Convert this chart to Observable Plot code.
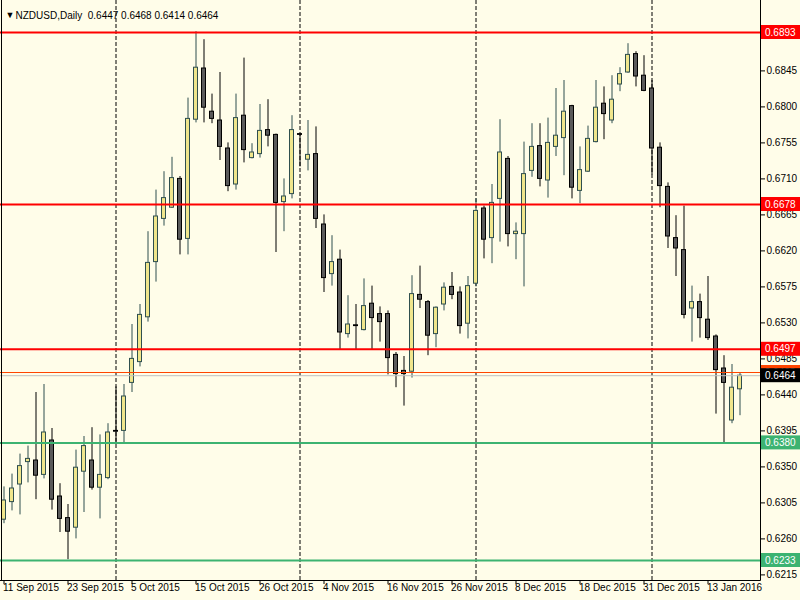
<!DOCTYPE html>
<html><head><meta charset="utf-8">
<script src="https://cdn.jsdelivr.net/npm/d3@7"></script>
<script src="https://cdn.jsdelivr.net/npm/@observablehq/plot@0.6"></script>
<style>
html,body{margin:0;padding:0;background:#FFFDE9;}
</style></head><body><div id="chart"></div>
<script>
const opens = [0.6284,0.6306,0.6328,0.6356,0.6358,0.6340,0.6383,0.6313,0.6286,0.6274,
0.6344,0.6358,0.6324,0.6336,0.6395,0.6395,0.6455,0.6481,0.6537,0.6606,
0.6660,0.6674,0.6710,0.6635,0.6784,0.6848,0.6794,0.6783,0.6748,0.6703,
0.6789,0.6736,0.6741,0.6771,0.6765,0.6681,0.6691,0.6766,0.6734,0.6741,
0.6653,0.6591,0.6609,0.6516,0.6527,0.6521,0.6554,0.6541,0.6541,0.6490,
0.6470,0.6469,0.6565,0.6556,0.6516,0.6553,0.6575,0.6568,0.6529,0.6579,
0.6673,0.6636,0.6685,0.6735,0.6641,0.6641,0.6720,0.6751,0.6708,0.6750,
0.6761,0.6801,0.6695,0.6719,0.6756,0.6804,0.6783,0.6828,0.6843,0.6866,
0.6839,0.6823,0.6749,0.6700,0.6636,0.6621,0.6548,0.6556,0.6534,0.6513,
0.6473,0.6408,0.6447];
const highs = [0.6325,0.6341,0.6366,0.6376,0.6443,0.6453,0.6398,0.6329,0.6303,0.6371,
0.6388,0.6399,0.6390,0.6404,0.6450,0.6453,0.6528,0.6553,0.6644,0.6696,
0.6719,0.6737,0.6713,0.6811,0.6894,0.6884,0.6816,0.6843,0.6755,0.6816,
0.6861,0.6754,0.6803,0.6809,0.6766,0.6710,0.6789,0.6766,0.6783,0.6775,
0.6665,0.6639,0.6621,0.6564,0.6553,0.6585,0.6576,0.6550,0.6545,0.6493,
0.6488,0.6589,0.6601,0.6558,0.6550,0.6580,0.6593,0.6575,0.6588,0.6685,
0.6676,0.6703,0.6784,0.6738,0.6655,0.6756,0.6779,0.6779,0.6786,0.6823,
0.6833,0.6802,0.6750,0.6776,0.6833,0.6825,0.6839,0.6849,0.6879,0.6869,
0.6864,0.6833,0.6755,0.6705,0.6664,0.6676,0.6576,0.6566,0.6588,0.6515,
0.6489,0.6478,0.6468];
const lows = [0.6279,0.6295,0.6290,0.6330,0.6309,0.6335,0.6296,0.6268,0.6234,0.6260,
0.6293,0.6321,0.6285,0.6334,0.6381,0.6380,0.6443,0.6475,0.6531,0.6581,
0.6651,0.6673,0.6615,0.6615,0.6780,0.6780,0.6779,0.6733,0.6694,0.6696,
0.6730,0.6735,0.6736,0.6750,0.6618,0.6644,0.6685,0.6725,0.6720,0.6648,
0.6568,0.6576,0.6496,0.6511,0.6496,0.6520,0.6496,0.6506,0.6465,0.6449,
0.6426,0.6461,0.6548,0.6489,0.6499,0.6545,0.6559,0.6516,0.6510,0.6575,
0.6610,0.6604,0.6631,0.6625,0.6609,0.6575,0.6712,0.6700,0.6686,0.6738,
0.6714,0.6685,0.6679,0.6718,0.6755,0.6759,0.6779,0.6819,0.6842,0.6825,
0.6819,0.6715,0.6674,0.6623,0.6588,0.6535,0.6506,0.6511,0.6508,0.6416,
0.6379,0.6404,0.6414];
const closes = [0.6308,0.6323,0.6351,0.6360,0.6339,0.6393,0.6309,0.6285,0.6269,0.6349,
0.6376,0.6324,0.6340,0.6393,0.6394,0.6438,0.6485,0.6540,0.6605,0.6663,
0.6686,0.6711,0.6634,0.6785,0.6849,0.6799,0.6785,0.6750,0.6701,0.6786,
0.6746,0.6743,0.6770,0.6764,0.6680,0.6688,0.6771,0.6765,0.6740,0.6660,
0.6586,0.6606,0.6518,0.6528,0.6526,0.6551,0.6536,0.6531,0.6486,0.6466,
0.6466,0.6566,0.6559,0.6514,0.6549,0.6574,0.6565,0.6526,0.6576,0.6670,
0.6634,0.6680,0.6743,0.6641,0.6644,0.6716,0.6750,0.6710,0.6755,0.6764,
0.6794,0.6699,0.6721,0.6760,0.6799,0.6791,0.6809,0.6841,0.6865,0.6838,
0.6820,0.6748,0.6701,0.6638,0.6623,0.6540,0.6556,0.6536,0.6511,0.6471,
0.6455,0.6449,0.6464];
const dateLabels = ["11 Sep 2015","23 Sep 2015","5 Oct 2015","15 Oct 2015","26 Oct 2015","4 Nov 2015","16 Nov 2015","26 Nov 2015","8 Dec 2015","18 Dec 2015","31 Dec 2015","13 Jan 2016"];
const dateLabelBars = [0,8,16,24,32,40,48,56,64,72,80,88];
const monthStartBars = [14,37,59,81];
const resistanceLevels = [0.6893,0.6678,0.6497];
const supportLevels = [0.6380,0.6233];
const orangeLevel = [0.6468];
const bidLevel = [0.6464];
const yTicks = [0.6215,0.6260,0.6305,0.6350,0.6395,0.6440,0.6485,0.6530,0.6575,0.6620,0.6665,0.6710,0.6755,0.6800,0.6845,0.6890];
const titleText = "NZDUSD,Daily  0.6447 0.6468 0.6414 0.6464";

const bars = opens.map((o, i) => ({i, open: o, high: highs[i], low: lows[i], close: closes[i], up: closes[i] > o}));
const BULL_FILL = "#F0E68C", BULL_LINE = "#2F4F4F", BEAR_FILL = "#5A5A5A", BEAR_LINE = "#000000";

const plot = Plot.plot({
  width: 800, height: 600,
  marginLeft: 0, marginRight: 40, marginTop: 0, marginBottom: 20,
  style: {background: "#FFFDE9", fontFamily: "Liberation Sans, Arial, sans-serif", fontSize: "10px", color: "#000", overflow: "visible"},
  x: {domain: [-0.4375, 94.5625], ticks: dateLabelBars, tickFormat: () => "", tickSize: 4, label: null},
  y: {domain: [0.6208, 0.6933], axis: "right", ticks: yTicks, tickFormat: d => d.toFixed(4), tickSize: 4, tickPadding: 2, label: null},
  marks: [
    Plot.ruleX(monthStartBars, {x: d => d, stroke: "#000", strokeDasharray: "4,2"}),
    Plot.ruleX(bars, {x: "i", y1: "low", y2: "high", stroke: d => d.up ? BULL_LINE : BEAR_LINE}),
    Plot.rect(bars, {x1: d => d.i - 0.25, x2: d => d.i + 0.25, y1: "open", y2: "close",
      fill: d => d.up ? BULL_FILL : BEAR_FILL, stroke: d => d.up ? BULL_LINE : BEAR_LINE, inset: 0}),
    Plot.ruleY(bidLevel, {y: d => d, stroke: "#C0C0C0"}),
    Plot.ruleY(orangeLevel, {y: d => d, stroke: "#FF4500"}),
    Plot.ruleY(resistanceLevels, {y: d => d, stroke: "#FF0000", strokeWidth: 2}),
    Plot.ruleY(supportLevels, {y: d => d, stroke: "#3CB371", strokeWidth: 2}),
    Plot.text(dateLabelBars, {x: d => d, text: (d, k) => dateLabels[k], frameAnchor: "bottom", dy: 10, dx: -1, textAnchor: "start", fill: "#000"}),
    Plot.text(["▼"], {frameAnchor: "top-left", dx: 5, dy: 11, textAnchor: "start", fontSize: 9, fill: "#000"}),
    Plot.text([titleText], {frameAnchor: "top-left", dx: 15, dy: 11, textAnchor: "start", fill: "#000"})
  ]
});

document.getElementById("chart").appendChild(plot);

// frame borders and price tags
const svg = d3.select(plot);
const ys = plot.scale("y");
const g = svg.append("g").attr("text-anchor", "start");
g.append("line").attr("x1", 1.5).attr("x2", 1.5).attr("y1", 0).attr("y2", 580).attr("stroke", "#000");
g.append("line").attr("x1", 760.5).attr("x2", 760.5).attr("y1", 0).attr("y2", 580.5).attr("stroke", "#000");
g.append("line").attr("x1", 0).attr("x2", 760.5).attr("y1", 580.5).attr("y2", 580.5).attr("stroke", "#000");

function tag(v, fill) {
  const yy = ys.apply(v);
  g.append("rect").attr("x", 761).attr("y", yy - 7).attr("width", 39).attr("height", 14).attr("fill", fill);
  g.append("text").attr("x", 765).attr("y", yy + 3.5).attr("fill", "#fff").attr("text-anchor", "start")
    .attr("font-family", "Liberation Sans, Arial, sans-serif").attr("font-size", 10).text(v.toFixed(4));
}
resistanceLevels.forEach(v => tag(v, "#FF0000"));
supportLevels.forEach(v => tag(v, "#3CB371"));
orangeLevel.forEach(v => tag(v, "#FF4500"));
bidLevel.forEach(v => tag(v, "#000000"));
</script>
</body></html>
